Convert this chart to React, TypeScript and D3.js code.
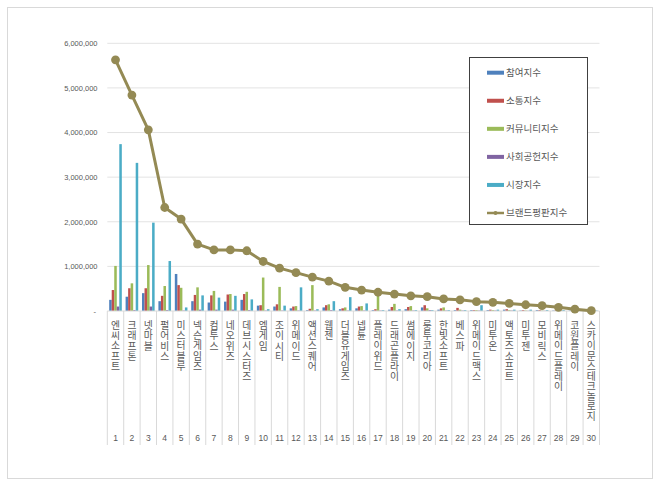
import React, { useEffect, useRef } from 'react';
import * as d3 from 'd3';

const categories = [
  '엔씨소프트', '크래프톤', '넷마블', '펄어비스', '미스터블루', '넥슨게임즈', '컴투스', '네오위즈',
  '데브시스터즈', '엠게임', '조이시티', '위메이드', '액션스퀘어', '웹젠', '더블유게임즈', '넵튠',
  '플레이위드', '드래곤플라이', '썸에이지', '룽투코리아', '한빛소프트', '베스파', '위메이드맥스',
  '미투온', '액토즈소프트', '미투젠', '모비릭스', '위메이드플레이', '코원플레이', '스카이문스테크놀로지',
];

// values in millions
const participation = [0.25, 0.32, 0.40, 0.22, 0.83, 0.22, 0.19, 0.21, 0.25, 0.12, 0.10, 0.06, 0.02, 0.08, 0.04, 0.06, 0.02, 0.03, 0.04, 0.08, 0.03, 0.02, 0.02, 0.02, 0.03, 0.01, 0.02, 0.01, 0.01, 0.005];
const communication = [0.47, 0.51, 0.51, 0.34, 0.58, 0.36, 0.35, 0.37, 0.38, 0.13, 0.15, 0.10, 0.05, 0.13, 0.06, 0.10, 0.04, 0.09, 0.09, 0.13, 0.06, 0.07, 0.02, 0.03, 0.04, 0.02, 0.02, 0.01, 0.01, 0.005];
const community = [1.01, 0.62, 1.03, 0.56, 0.52, 0.53, 0.45, 0.38, 0.43, 0.75, 0.54, 0.11, 0.58, 0.15, 0.08, 0.11, 0.36, 0.16, 0.11, 0.06, 0.08, 0.03, 0.02, 0.02, 0.02, 0.01, 0.01, 0.01, 0.01, 0.005];
const social = [0.10, 0.02, 0.10, 0.02, 0.01, 0.03, 0.03, 0.03, 0.02, 0.01, 0.01, 0.01, 0.01, 0.02, 0.01, 0.01, 0.01, 0.01, 0.01, 0.02, 0.01, 0.01, 0.01, 0.01, 0.01, 0.005, 0.005, 0.005, 0.005, 0.003];
const market = [3.74, 3.32, 1.98, 1.12, 0.08, 0.35, 0.30, 0.34, 0.26, 0.04, 0.12, 0.53, 0.04, 0.22, 0.31, 0.17, 0.02, 0.04, 0.02, 0.02, 0.02, 0.02, 0.13, 0.03, 0.03, 0.03, 0.02, 0.02, 0.02, 0.01];
const brand = [5.63, 4.84, 4.06, 2.32, 2.06, 1.50, 1.37, 1.37, 1.35, 1.11, 0.96, 0.86, 0.76, 0.67, 0.53, 0.47, 0.42, 0.38, 0.34, 0.32, 0.27, 0.25, 0.21, 0.195, 0.17, 0.14, 0.12, 0.083, 0.04, 0.007];

const yTicks = [0, 1, 2, 3, 4, 5, 6];

const barSeries = [
  { name: '참여지수', values: participation, color: '#4f81bd' },
  { name: '소통지수', values: communication, color: '#c0504d' },
  { name: '커뮤니티지수', values: community, color: '#9bbb59' },
  { name: '사회공헌지수', values: social, color: '#8064a2' },
  { name: '시장지수', values: market, color: '#4bacc6' },
];
const lineName = '브랜드평판지수';
const lineColor = '#948a54';

const W = 660;
const H = 485;
const plot = { left: 107.3, right: 599.5, top: 43.3, bottom: 311 };
const korFont = '"Noto Sans CJK KR", "Noto Sans", sans-serif';
const numFont = '"Liberation Sans", Arial, sans-serif';

const App: React.FC = () => {
  const svgRef = useRef<SVGSVGElement>(null);

  useEffect(() => {
    if (!svgRef.current) return;
    const svg = d3.select(svgRef.current);
    svg.selectAll('*').remove();

    // outer frame
    svg.append('rect')
      .attr('x', 7.5).attr('y', 7.5)
      .attr('width', 645).attr('height', 471)
      .attr('fill', '#fff')
      .attr('stroke', '#d9d9d9');

    const x = d3.scaleBand<string>()
      .domain(categories)
      .range([plot.left, plot.right])
      .paddingInner(0)
      .paddingOuter(0);

    const xInner = d3.scaleBand<string>()
      .domain(barSeries.map(s => s.name))
      .range([0, x.bandwidth()])
      .paddingInner(0)
      .paddingOuter(0.75);

    const y = d3.scaleLinear()
      .domain([0, 6])
      .range([plot.bottom, plot.top]);

    // gridlines
    svg.append('g')
      .selectAll('line')
      .data(yTicks.filter(t => t > 0))
      .enter()
      .append('line')
      .attr('x1', plot.left).attr('x2', plot.right)
      .attr('y1', d => y(d)).attr('y2', d => y(d))
      .attr('stroke', '#e3e3e3')
      .attr('stroke-width', 1);

    // y labels
    svg.append('g')
      .selectAll('text')
      .data(yTicks)
      .enter()
      .append('text')
      .attr('x', d => (d === 0 ? 96 : 97.5))
      .attr('y', d => y(d) + 2.8)
      .attr('text-anchor', 'end')
      .attr('font-family', numFont)
      .attr('font-size', 7.5)
      .attr('fill', '#595959')
      .text(d => (d === 0 ? '-' : d3.format(',')(d * 1e6)));

    // bars
    barSeries.forEach(s => {
      svg.append('g')
        .selectAll('rect')
        .data(s.values)
        .enter()
        .append('rect')
        .attr('x', (d, i) => (x(categories[i]) || 0) + (xInner(s.name) || 0))
        .attr('y', d => y(d))
        .attr('width', xInner.bandwidth())
        .attr('height', d => plot.bottom - y(d))
        .attr('fill', s.color);
    });

    // x axis line and category separators
    svg.append('line')
      .attr('x1', plot.left).attr('x2', plot.right)
      .attr('y1', plot.bottom).attr('y2', plot.bottom)
      .attr('stroke', '#d9d9d9');

    const bounds = categories.map(c => x(c) || 0).concat([plot.right]);
    svg.append('g')
      .selectAll('line')
      .data(bounds)
      .enter()
      .append('line')
      .attr('x1', d => d).attr('x2', d => d)
      .attr('y1', plot.bottom).attr('y2', 445)
      .attr('stroke', '#d9d9d9');

    // brand line
    const cx = (i: number) => (x(categories[i]) || 0) + x.bandwidth() / 2;
    const line = d3.line<number>()
      .x((d, i) => cx(i))
      .y(d => y(d));

    svg.append('path')
      .datum(brand)
      .attr('d', line)
      .attr('fill', 'none')
      .attr('stroke', lineColor)
      .attr('stroke-width', 3)
      .attr('stroke-linejoin', 'round');

    svg.append('g')
      .selectAll('circle')
      .data(brand)
      .enter()
      .append('circle')
      .attr('cx', (d, i) => cx(i))
      .attr('cy', d => y(d))
      .attr('r', 4.4)
      .attr('fill', lineColor);

    // category labels (stacked vertical text)
    categories.forEach((c, i) => {
      svg.append('text')
        .attr('x', cx(i))
        .attr('y', 320.5)
        .attr('font-family', korFont)
        .attr('font-size', 9.8)
        .attr('fill', '#595959')
        .attr('textLength', Array.from(c).length * 10.1)
        .attr('lengthAdjust', 'spacing')
        .style('writing-mode', 'vertical-rl')
        .style('text-orientation', 'upright')
        .text(c);
      svg.append('text')
        .attr('x', cx(i))
        .attr('y', 440.5)
        .attr('text-anchor', 'middle')
        .attr('font-family', numFont)
        .attr('font-size', 8.5)
        .attr('fill', '#595959')
        .text(String(i + 1));
    });

    // legend
    const lg = svg.append('g');
    lg.append('rect')
      .attr('x', 469.5).attr('y', 57.5)
      .attr('width', 118).attr('height', 167)
      .attr('fill', '#fff')
      .attr('stroke', '#404040');

    const legendItems = [...barSeries.map(s => ({ name: s.name, color: s.color, isLine: false })),
      { name: lineName, color: lineColor, isLine: true }];
    const ly = d3.scalePoint<string>()
      .domain(legendItems.map(d => d.name))
      .range([72.7, 213]);

    legendItems.forEach(item => {
      const yy = ly(item.name) || 0;
      if (item.isLine) {
        lg.append('line')
          .attr('x1', 487).attr('x2', 504)
          .attr('y1', yy).attr('y2', yy)
          .attr('stroke', item.color).attr('stroke-width', 2.5);
        lg.append('circle')
          .attr('cx', 495.5).attr('cy', yy).attr('r', 2)
          .attr('fill', item.color);
      } else {
        lg.append('rect')
          .attr('x', 487).attr('y', yy - 2)
          .attr('width', 17).attr('height', 4)
          .attr('fill', item.color);
      }
      lg.append('text')
        .attr('x', 506)
        .attr('y', yy + 3.4)
        .attr('font-family', korFont)
        .attr('font-size', 9.5)
        .attr('fill', '#595959')
        .text(item.name);
    });
  }, []);

  return (
    <svg
      ref={svgRef}
      width={W}
      height={H}
      style={{ position: 'absolute', left: 0, top: 0, background: '#fff' }}
    />
  );
};

export default App;
